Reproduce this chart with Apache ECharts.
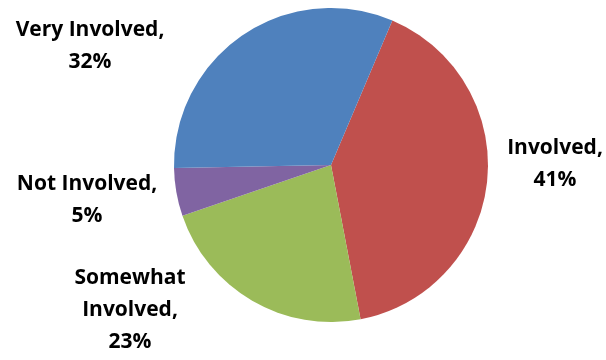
<!DOCTYPE html>
<html>
<head>
<meta charset="utf-8">
<script src="https://cdn.jsdelivr.net/npm/echarts@6/dist/echarts.min.js"></script>
<style>
  html, body { margin: 0; padding: 0; background: #ffffff; }
  #chart { width: 606px; height: 360px; }
</style>
</head>
<body>
<div id="chart"></div>
<script>
// Level of involvement, share of respondents (%)
const categories = ['Involved', 'Somewhat Involved', 'Not Involved', 'Very Involved'];
const values = [41, 23, 5, 32];
const labelTexts = ['Involved,\n41%', 'Somewhat\nInvolved,\n23%', 'Not Involved,\n5%', 'Very Involved,\n32%'];
const colors = ['#C0504D', '#9BBB59', '#8064A2', '#4F81BD'];
// Label block centres (px) beside each slice
const labelSpots = [[555, 164], [130, 310], [87, 200], [90, 46]];

const chart = echarts.init(document.getElementById('chart'), null, { renderer: 'canvas' });

chart.setOption({
  animation: false,
  series: [{
    type: 'pie',
    center: [331, 165],
    radius: 157,
    startAngle: 67,
    clockwise: true,
    avoidLabelOverlap: false,
    data: categories.map((name, i) => ({
      name: name,
      value: values[i],
      itemStyle: { color: colors[i] },
      label: { formatter: labelTexts[i] }
    })),
    itemStyle: { borderWidth: 0 },
    label: {
      show: true,
      position: 'outside',
      color: '#000000',
      fontFamily: 'Open Sans',
      fontWeight: 'bold',
      fontSize: 21,
      lineHeight: 32,
      align: 'center'
    },
    labelLine: { show: false },
    labelLayout: function (params) {
      const p = labelSpots[params.dataIndex];
      return { x: p[0], y: p[1], align: 'center', verticalAlign: 'middle' };
    },
    emphasis: { disabled: true }
  }]
});
</script>
</body>
</html>
